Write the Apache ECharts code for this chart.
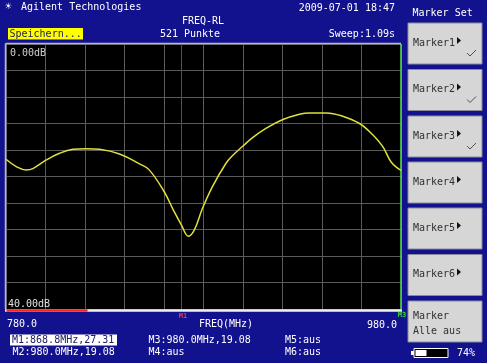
<!DOCTYPE html>
<html><head><meta charset="utf-8">
<script src="https://cdn.jsdelivr.net/npm/echarts@6/dist/echarts.min.js"></script>
<style>html,body{margin:0;padding:0;background:#12128e;}#c{width:487px;height:363px;}</style>
</head><body><div id="c"></div>
<script>
// Data
const freqMHz = [780, 785.2, 790.2, 793.6, 800.4, 807.1, 813.9, 820.6, 827.3, 837.5, 847.6, 852.5, 860.1, 864.3, 868.8, 872.4, 875.3, 879.5, 884.6, 891.4, 894.9, 900, 905, 911.8, 920.2, 928.6, 933.7, 942.1, 950.5, 959, 965.7, 970.8, 975, 980];
const returnLossDb = [17.4, 18.5, 19.0, 18.8, 17.5, 16.5, 15.9, 15.8, 15.9, 16.6, 18.1, 19.0, 22.3, 24.8, 27.31, 29.0, 28.1, 24.8, 21.5, 18.0, 16.8, 15.4, 14.1, 12.7, 11.4, 10.6, 10.4, 10.4, 10.9, 12.0, 13.7, 15.5, 17.8, 19.08];
const markerFreqs = [868.8, 980];
const xTicks = {min: 780, max: 980, step: 20};
const yTicks = {min: 0, max: 40, step: 4};
const markerTexts = ["M1:868.8MHz,27.31", "M2:980.0MHz,19.08", "M3:980.0MHz,19.08", "M4:aus", "M5:aus", "M6:aus"];
const buttons = ["Marker1", "Marker2", "Marker3", "Marker4", "Marker5", "Marker6"];
const checked = [true, true, true, false, false, false];

const FONT = '"DejaVu Sans Mono", monospace';
const chart = echarts.init(document.getElementById('c'), null, {renderer: 'canvas'});
const G = {left: 6, top: 44, w: 395, h: 265};

function txt(x, y, s, color, opts) {
  return Object.assign({type: 'text', x: x, y: y, z: 20, silent: true,
    style: Object.assign({text: s, fill: color, font: '10px ' + FONT, textVerticalAlign: 'middle', textAlign: 'left'}, opts || {})});
}
const gr = [];
// header
gr.push(txt(5, 7, '\u2600', '#ffffff', {font: '11px ' + FONT}));
gr.push(txt(21, 7, 'Agilent Technologies', '#ffffff'));
gr.push(txt(203, 21.5, 'FREQ-RL', '#ffffff', {textAlign: 'center'}));
gr.push(txt(190, 34.5, '521 Punkte', '#ffffff', {textAlign: 'center'}));
gr.push({type: 'rect', shape: {x: 8, y: 28, width: 75, height: 11.5}, style: {fill: '#ffff00'}, z: 15, silent: true});
gr.push(txt(9.5, 34, 'Speichern...', '#202060'));
gr.push(txt(395, 8, '2009-07-01 18:47', '#ffffff', {textAlign: 'right'}));
gr.push(txt(395, 34.5, 'Sweep:1.09s', '#ffffff', {textAlign: 'right'}));
gr.push(txt(412.5, 13.5, 'Marker Set', '#ffffff'));
// buttons
const btnTops = [23, 69.5, 116, 162, 208, 254.5];
buttons.forEach(function (b, i) {
  const t = btnTops[i];
  gr.push({type: 'rect', shape: {x: 408, y: t, width: 74, height: 41}, style: {fill: '#d6d6d6', stroke: '#8a8a9a', lineWidth: 1}, z: 12, silent: true});
  gr.push(txt(413, t + 20, b, '#303030'));
  gr.push({type: 'polygon', shape: {points: [[457, t + 14], [457, t + 21], [461, t + 17.5]]}, style: {fill: '#101010'}, z: 20, silent: true});
  if (checked[i]) {
    gr.push({type: 'polyline', shape: {points: [[467, t + 30], [470, t + 33], [476, t + 27]]}, style: {stroke: '#505050', lineWidth: 1, fill: null}, z: 20, silent: true});
  }
});
gr.push({type: 'rect', shape: {x: 408, y: 301, width: 74, height: 41}, style: {fill: '#d6d6d6', stroke: '#8a8a9a', lineWidth: 1}, z: 12, silent: true});
gr.push(txt(413, 316.5, 'Marker', '#303030'));
gr.push(txt(413, 331.5, 'Alle aus', '#303030'));
// battery
gr.push({type: 'rect', shape: {x: 411, y: 351, width: 3, height: 4}, style: {fill: '#ffffff'}, z: 20, silent: true});
gr.push({type: 'rect', shape: {x: 414, y: 348.5, width: 34, height: 9}, style: {fill: '#000000', stroke: '#ffffff', lineWidth: 1}, z: 20, silent: true});
gr.push({type: 'rect', shape: {x: 415.5, y: 350, width: 11, height: 6}, style: {fill: '#ffffff'}, z: 21, silent: true});
gr.push(txt(457, 353, '74%', '#ffffff'));
// plot frame
gr.push({type: 'line', shape: {x1: 5.5, y1: 43.5, x2: 401, y2: 43.5}, style: {stroke: '#b8b8c8', lineWidth: 1.5}, z: 18, silent: true});
gr.push({type: 'line', shape: {x1: 5.5, y1: 43.5, x2: 5.5, y2: 309}, style: {stroke: '#b8b8c8', lineWidth: 1.5}, z: 18, silent: true});
gr.push({type: 'line', shape: {x1: 5, y1: 310.5, x2: 402, y2: 310.5}, style: {stroke: '#f0f0f0', lineWidth: 2.5}, z: 18, silent: true});
gr.push({type: 'line', shape: {x1: 6.5, y1: 310.5, x2: 87.5, y2: 310.5}, style: {stroke: '#ff2020', lineWidth: 2.5}, z: 19, silent: true});
gr.push(txt(10, 53, '0.00dB', '#cfcfcf'));
gr.push(txt(8, 304.5, '40.00dB', '#e0e0e0'));
gr.push(txt(183, 316, 'M1', '#ff3030', {textAlign: 'center', font: 'bold 7px ' + FONT}));
gr.push(txt(402, 315, 'M3', '#30e030', {textAlign: 'center', font: 'bold 7px ' + FONT}));
// axis labels
gr.push(txt(7, 324.5, xTicks.min.toFixed(1), '#ffffff'));
gr.push(txt(226, 324.5, 'FREQ(MHz)', '#ffffff', {textAlign: 'center'}));
gr.push(txt(397, 325, xTicks.max.toFixed(1), '#ffffff', {textAlign: 'right'}));
// marker readouts
gr.push({type: 'rect', shape: {x: 10, y: 334.5, width: 107, height: 11}, style: {fill: '#ffffff'}, z: 15, silent: true});
gr.push(txt(12, 340.5, markerTexts[0], '#202060'));
gr.push(txt(12.5, 352, markerTexts[1], '#ffffff'));
gr.push(txt(148.5, 340.5, markerTexts[2], '#ffffff'));
gr.push(txt(148.5, 352, markerTexts[3], '#ffffff'));
gr.push(txt(285, 340.5, markerTexts[4], '#ffffff'));
gr.push(txt(285, 352, markerTexts[5], '#ffffff'));

chart.setOption({
  backgroundColor: '#12128e',
  animation: false,
  grid: {left: G.left, top: G.top, width: G.w, height: G.h, show: true, backgroundColor: '#000000', borderWidth: 0},
  xAxis: {type: 'value', min: xTicks.min, max: xTicks.max, interval: xTicks.step,
    axisLine: {show: false}, axisTick: {show: false}, axisLabel: {show: false},
    splitLine: {show: true, lineStyle: {color: '#5a5a5a', width: 1}}},
  yAxis: {type: 'value', inverse: true, min: yTicks.min, max: yTicks.max, interval: yTicks.step,
    axisLine: {show: false}, axisTick: {show: false}, axisLabel: {show: false},
    splitLine: {show: true, lineStyle: {color: '#5a5a5a', width: 1}}},
  series: [{
    type: 'line', data: freqMHz.map(function (f, i) { return [f, returnLossDb[i]]; }),
    smooth: 0.4, showSymbol: false, lineStyle: {color: '#e0e03a', width: 1.5}, z: 5,
    markLine: {silent: true, symbol: 'none', label: {show: false}, animation: false,
      data: [
        {xAxis: markerFreqs[0], lineStyle: {color: '#c81e1e', width: 1, type: 'solid'}},
        {xAxis: markerFreqs[1], lineStyle: {color: '#50e050', width: 1.5, type: 'solid'}}
      ]}
  }],
  graphic: gr
});
</script></body></html>
